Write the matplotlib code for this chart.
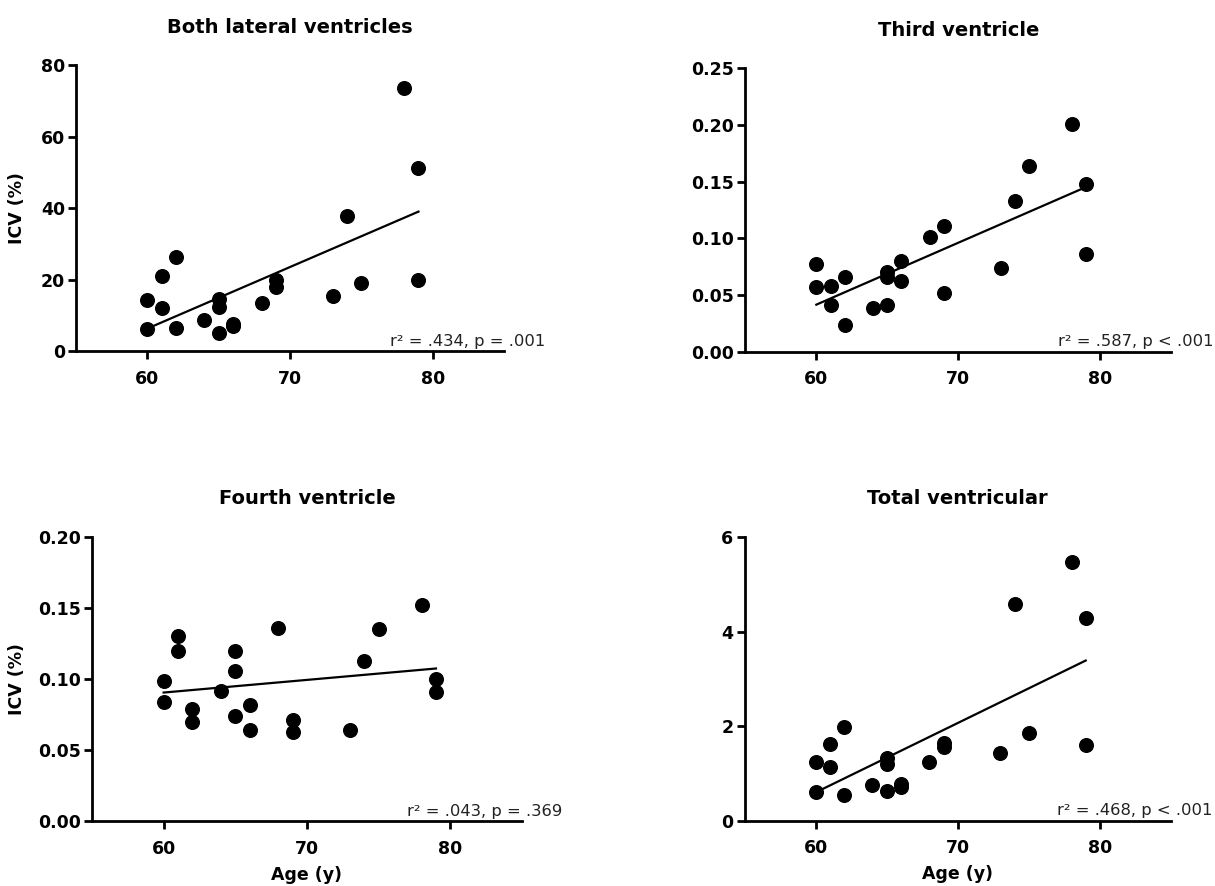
import numpy as np
import matplotlib
matplotlib.use("Agg")
import matplotlib.pyplot as plt
from matplotlib.ticker import FormatStrFormatter

plt.rcParams['font.family'] = ['DejaVu Sans']

# ---- data ----
age = [60, 60, 61, 61, 62, 62, 64, 65, 65, 65, 66, 66, 68, 69, 69, 73, 74, 75, 78, 79, 79]

lateral = [14.3, 6.3, 21.0, 12.1, 26.3, 6.6, 8.9, 14.7, 12.4, 5.3, 7.8, 7.1,
           13.6, 19.9, 18.0, 15.6, 38.0, 19.2, 73.7, 51.2, 19.9]
third = [0.077, 0.057, 0.058, 0.041, 0.066, 0.024, 0.039, 0.070, 0.066, 0.041,
         0.080, 0.062, 0.101, 0.111, 0.052, 0.074, 0.133, 0.164, 0.201, 0.148, 0.086]
fourth = [0.099, 0.084, 0.130, 0.120, 0.079, 0.070, 0.092, 0.120, 0.106, 0.074,
          0.082, 0.064, 0.136, 0.071, 0.063, 0.064, 0.113, 0.135, 0.152, 0.100, 0.091]
total = [1.25, 0.61, 1.63, 1.14, 1.99, 0.54, 0.77, 1.34, 1.20, 0.64, 0.78, 0.71,
         1.24, 1.64, 1.56, 1.43, 4.59, 1.86, 5.47, 4.29, 1.60]

titles = ["Both lateral ventricles", "Third ventricle", "Fourth ventricle", "Total ventricular"]
stats = ["r² = .434, p = .001", "r² = .587, p < .001", "r² = .043, p = .369", "r² = .468, p < .001"]
yticks = [[0, 20, 40, 60, 80], [0.00, 0.05, 0.10, 0.15, 0.20, 0.25],
          [0.00, 0.05, 0.10, 0.15, 0.20], [0, 2, 4, 6]]
yfmt = ["%d", "%.2f", "%.2f", "%d"]
xticks = [60, 70, 80]
series = [lateral, third, fourth, total]

# ---- layout ----
fig = plt.figure(figsize=(12.15, 8.86), dpi=100)
rects = [
    [0.0626, 0.6033, 0.3523, 0.3228],
    [0.6135, 0.6030, 0.3503, 0.3199],
    [0.0757, 0.0728, 0.3539, 0.3214],
    [0.6128, 0.0734, 0.3510, 0.3205],
]
ylab_x = [-0.117, None, -0.153, None]

for i in range(4):
    ax = fig.add_axes(rects[i])
    x = np.array(age, dtype=float)
    y = np.array(series[i], dtype=float)
    ax.plot(x, y, 'o', color='black', markersize=9.8, clip_on=False, zorder=3)
    slope, intercept = np.polyfit(x, y, 1)
    xl = np.array([x.min(), x.max()])
    ax.plot(xl, slope * xl + intercept, color='black', lw=1.6, zorder=2)

    ax.set_xlim(55, 85)
    ax.set_ylim(yticks[i][0], yticks[i][-1])
    ax.set_xticks(xticks)
    ax.set_yticks(yticks[i])
    ax.yaxis.set_major_formatter(FormatStrFormatter(yfmt[i]))
    for s in ['top', 'right']:
        ax.spines[s].set_visible(False)
    for s in ['left', 'bottom']:
        ax.spines[s].set_linewidth(2.0)
    ax.tick_params(axis='both', which='major', width=2.0, length=6,
                   labelsize=12.5, colors='black')
    ax.tick_params(axis='x', pad=7)
    ax.tick_params(axis='y', pad=2)
    for lab in ax.get_xticklabels() + ax.get_yticklabels():
        lab.set_fontweight('bold')

    ax.set_title(titles[i], fontsize=14, fontweight='bold', pad=23.5)

    ax.annotate(stats[i], xy=(77, 0), xycoords=('data', 'axes fraction'),
                xytext=(0, 4), textcoords='offset points',
                ha='left', va='baseline', fontsize=11.8, color='#222222',
                annotation_clip=False)

    if ylab_x[i] is not None:
        ax.set_ylabel("ICV (%)", fontsize=12.5, fontweight='bold')
        ax.yaxis.set_label_coords(ylab_x[i], 0.5)
    if i >= 2:
        ax.set_xlabel("Age (y)", fontsize=12.5, fontweight='bold')
        ax.xaxis.label.set_va('center')
        ax.xaxis.set_label_coords(0.5, -0.188)

fig.savefig("out.png", dpi=100)
